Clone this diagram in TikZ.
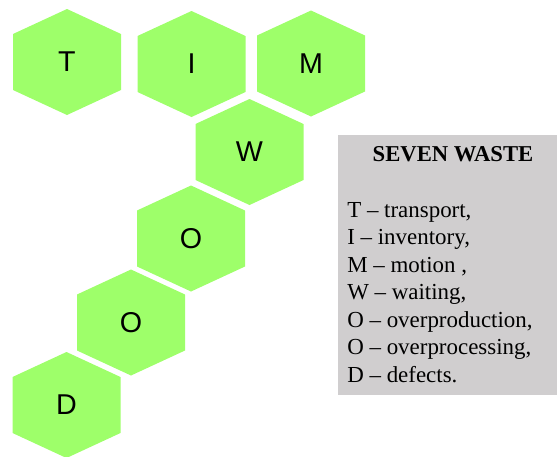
\documentclass[tikz,border=0pt]{standalone}
\usepackage{fontspec}
\setmainfont{Liberation Serif}
\newfontfamily\hexfont{Liberation Sans}
\definecolor{hexgreen}{RGB}{158,255,106}
\definecolor{boxgrey}{RGB}{208,206,207}
\begin{document}
\begin{tikzpicture}[x=0.75pt,y=-0.75pt,
  hexfill/.style={fill=hexgreen},
  hexlabel/.style={font=\hexfont\fontsize{21.5}{25}\selectfont, anchor=base, inner sep=0pt},
  listline/.style={font=\fontsize{17.2}{20}\selectfont, anchor=base west, inner sep=0pt},
  titletext/.style={font=\bfseries\fontsize{17}{20}\selectfont, anchor=base, inner sep=0pt}]
\useasboundingbox (0,0) rectangle (557,457);
\foreach \n/\cx/\cy/\l in {t/67/62/T, i/191.5/64/I, m/311/63.5/M, w/249.5/152/W, oa/191/238.5/O, ob/131/322.5/O, d/66.5/405/D}{
  \fill[hexfill] (\cx,\cy) ++(0,-53) -- ++(54,25) -- ++(0,56) -- ++(-54,25) -- ++(-54,-25) -- ++(0,-56) -- cycle;
  \node[hexlabel] (\n) at (\cx,\cy+9.5) {\l};
}
\fill[boxgrey] (338,135) rectangle (557,395);
\node[titletext] (title) at (453,161) {SEVEN WASTE};
\node[listline] (l1) at (347,217) {T – transport,};
\node[listline] (l2) at (347,244.5) {I – inventory,};
\node[listline] (l3) at (347,272) {M – motion ,};
\node[listline] (l4) at (347,299.5) {W – waiting,};
\node[listline] (l5) at (347,327) {O – overproduction,};
\node[listline] (l6) at (347,354.5) {O – overprocessing,};
\node[listline] (l7) at (347,382) {D – defects.};
\end{tikzpicture}
\end{document}
